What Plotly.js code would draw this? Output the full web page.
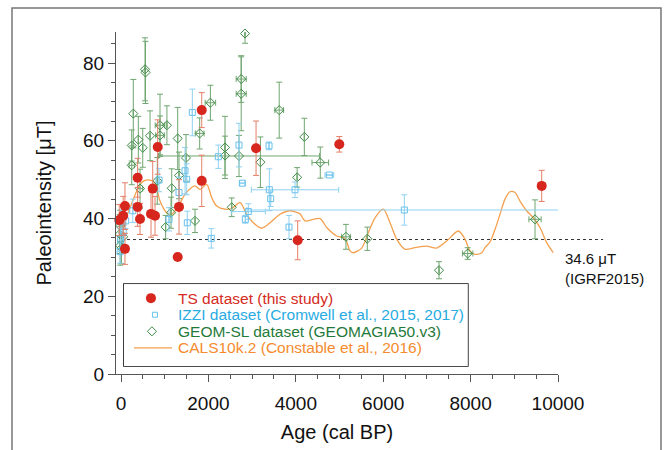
<!DOCTYPE html>
<html>
<head>
<meta charset="utf-8">
<script src="https://cdn.plot.ly/plotly-3.0.1.min.js"></script>
<style>html,body{margin:0;padding:0;background:#fff;}#chart{width:669px;height:450px;}</style>
</head>
<body>
<div id="chart"></div>
<script>
// ---- TS dataset (this study)
const ts_age = [-40, 90, 50, 90, 380, 380, 435, 725, 686, 778, 1327, 1297, 1847, 840, 1847, 3090, 4043, 4995, 9627];
const ts_pi  = [39.6, 32.2, 40.7, 43.2, 50.5, 43.0, 39.9, 47.7, 41.2, 40.7, 43.0, 30.1, 49.7, 58.4, 67.9, 58.1, 34.4, 59.1, 48.4];
const ts_err = [4, 4, 5, 6, 5, 5, 4, 7, 6, 5, 7, 0, 6.6, 7, 4.5, 7, 5, 2, 4];

// ---- IZZI dataset
const izzi_age  = [0, 107, 268, -10, -20, 50, 870, 1098, 1327, 1465, 1503, 1517, 1632, 2065, 2227, 2700, 2776, 2845, 2913, 3387, 3394, 3982, 3425, 3844, 4767, 6483];
const izzi_pi   = [39.2, 39.4, 42.0, 34.5, 31.5, 36.5, 49.9, 39.8, 46.7, 52.3, 50.1, 38.9, 67.3, 34.9, 55.9, 58.9, 49.1, 39.8, 41.8, 58.7, 47.4, 47.4, 45.1, 37.8, 51.2, 42.2];
const izzi_err  = [3, 2, 3, 3, 3, 2, 3, 3, 4, 6, 4, 3, 6, 2.5, 3, 5.6, 0, 1, 2, 1, 5.4, 2, 2, 3, 0, 3.9];
const izzi_xerr = [0, 0, 0, 0, 0, 0, 0, 0, 0, 0, 0, 0, 0, 0, 0, 0, 60, 0, 390, 0, 0, 1000, 0, 0, 100, 3600];

// ---- GEOM-SL dataset
const geom_age  = [-20, -30, 50, -20, 10, 245, 281, 245, 396, 497, 435, 549, 560, 664, 830, 892, 1050, 892, 1021, 1144, 1160, 1297, 1327, 1487, 1693, 1800, 2045, 2380, 2380, 2533, 2700, 2750, 2750, 2838, 3190, 3620, 4030, 4195, 4560, 5148, 5636, 7277, 7933, 9474];
const geom_pi   = [38.1, 36.0, 35.3, 33.0, 32.4, 53.7, 67.0, 58.8, 60.3, 58.2, 47.7, 78.4, 77.6, 61.3, 49.7, 64.0, 64.0, 61.4, 37.8, 41.5, 47.8, 60.6, 51.1, 55.6, 39.4, 61.9, 69.8, 58.3, 56.2, 42.9, 56.1, 75.9, 72.1, 87.6, 54.5, 67.9, 50.6, 61.0, 54.4, 35.3, 34.8, 26.7, 31.0, 39.8];
const geom_err  = [4, 5, 3, 5, 4, 5, 8.8, 4, 6, 5, 5, 8.1, 8, 6.4, 6, 8, 5, 5, 3, 4, 5, 8, 6, 6, 3, 4, 4.5, 8, 5, 2.4, 5.3, 6, 9.5, 2.5, 6.5, 7.2, 2.5, 4.8, 4, 3.2, 3, 2.2, 1.5, 5];
const geom_xerr = [0, 0, 0, 0, 0, 60, 0, 0, 0, 0, 60, 0, 0, 0, 0, 110, 0, 100, 0, 0, 0, 0, 0, 0, 0, 100, 120, 0, 0, 0, 1840, 115, 115, 0, 0, 100, 0, 0, 190, 100, 0, 0, 120, 140];

// ---- CALS10k.2 model curve
const cals_age = [-40, -23, 90, 206, 435, 550, 664, 778, 892, 1045, 1160, 1311, 1465, 1617, 1693, 1808, 1960, 2075, 2189, 2380, 2533, 2723, 2876, 3028, 3220, 3410, 3638, 3867, 4096, 4211, 4554, 4707, 4936, 5126, 5240, 5316, 5507, 5660, 5812, 6003, 6156, 6308, 6499, 6728, 6995, 7224, 7452, 7719, 7872, 7986, 8101, 8254, 8330, 8444, 8558, 8673, 8787, 8902, 9016, 9130, 9283, 9435, 9588, 9741, 9893];
const cals_pi  = [35.8, 36.8, 39.5, 42.8, 48.8, 49.8, 49.9, 49.2, 44.5, 41.5, 41.1, 43.2, 46.3, 48.0, 48.4, 47.5, 48.8, 45.4, 43.2, 42.4, 42.6, 44.1, 41.1, 38.9, 37.5, 38.9, 41.1, 42.0, 41.2, 39.4, 40.0, 37.7, 35.5, 34.9, 31.7, 31.2, 32.4, 36.4, 40.2, 42.4, 38.9, 34.7, 32.1, 32.5, 32.9, 32.4, 34.2, 36.8, 34.7, 31.7, 30.8, 31.2, 32.5, 34.0, 37.2, 41.1, 45.0, 46.9, 46.7, 44.5, 42.0, 40.2, 37.7, 33.8, 31.2];

// ---- reference value and labels
const igrf_value = 34.6;
const igrf_label = "34.6 \u03bcT<br>(IGRF2015)";
const x_ticks = [0, 2000, 4000, 6000, 8000, 10000];
const y_ticks = [0, 20, 40, 60, 80];
const legend_labels = [
  "TS dataset (this study)",
  "IZZI dataset (Cromwell et al., 2015, 2017)",
  "GEOM-SL dataset (GEOMAGIA50.v3)",
  "CALS10k.2 (Constable et al., 2016)"
];

const FONT = "Arial, 'Liberation Sans', sans-serif";
const xr = [-115, 10000];

// styles
const C_TS = '#d7261e', C_IZZI = '#68c1ec', C_GEOM = '#3d8a45', C_CALS = '#f5a04f';
const legend_text_colors = ['#d42b23', '#29abe2', '#1f7a3a', '#f58b2e'];
const mk_ts = {symbol: 'circle', size: 10, color: C_TS};
const mk_izzi = {symbol: 'square-open', size: 5, color: C_IZZI, line: {width: 1}};
const mk_geom = {symbol: 'diamond-open', size: 7, color: C_GEOM, line: {width: 1}};

const traces = [
  {
    x: cals_age, y: cals_pi, type: 'scatter', mode: 'lines', name: legend_labels[3],
    line: {color: C_CALS, width: 1.3, shape: 'spline', smoothing: 0.8},
    showlegend: false, hoverinfo: 'skip'
  },
  {
    x: geom_age, y: geom_pi, type: 'scatter', mode: 'markers', name: legend_labels[2],
    marker: mk_geom,
    error_y: {type: 'data', array: geom_err, visible: true, color: '#6fa66f', thickness: 1, width: 3},
    error_x: {type: 'data', array: geom_xerr, visible: true, color: '#6fa66f', thickness: 1, width: 3},
    showlegend: false, cliponaxis: false
  },
  {
    x: izzi_age, y: izzi_pi, type: 'scatter', mode: 'markers', name: legend_labels[1],
    marker: Object.assign({}, mk_izzi, {size: 6}),
    error_y: {type: 'data', array: izzi_err, visible: true, color: '#8fd1f2', thickness: 1, width: 3},
    error_x: {type: 'data', array: izzi_xerr, visible: true, color: '#8fd1f2', thickness: 1, width: 3},
    showlegend: false, cliponaxis: false
  },
  {
    x: ts_age, y: ts_pi, type: 'scatter', mode: 'markers', name: legend_labels[0],
    marker: mk_ts,
    error_y: {type: 'data', array: ts_err, visible: true, color: '#e57f68', thickness: 1, width: 3},
    showlegend: false, cliponaxis: false
  }
];

// ---- legend drawn on a hidden helper axis (x2/y2); one row per legend label
const nL = legend_labels.length;
const rowY = i => nL - i;          // 4,3,2,1
const keyX = 27, lineX0 = 10, lineX1 = 48, textX = 52;
traces.push(
  {x: [keyX], y: [rowY(0)], xaxis: 'x2', yaxis: 'y2', type: 'scatter', mode: 'markers', marker: mk_ts, showlegend: false, hoverinfo: 'skip'},
  {x: [keyX + 4], y: [rowY(1)], xaxis: 'x2', yaxis: 'y2', type: 'scatter', mode: 'markers', marker: mk_izzi, showlegend: false, hoverinfo: 'skip'},
  {x: [keyX + 1], y: [rowY(2)], xaxis: 'x2', yaxis: 'y2', type: 'scatter', mode: 'markers', marker: mk_geom, showlegend: false, hoverinfo: 'skip'},
  {x: [lineX0, lineX1], y: [rowY(3), rowY(3)], xaxis: 'x2', yaxis: 'y2', type: 'scatter', mode: 'lines', line: {color: C_CALS, width: 1.3}, showlegend: false, hoverinfo: 'skip'}
);

const paperX = v => (v - xr[0]) / (xr[1] - xr[0]);

const legendAnn = legend_labels.map((t, i) => ({
  xref: 'x2', yref: 'y2', x: textX, y: rowY(i), xanchor: 'left', yanchor: 'middle',
  text: t, showarrow: false, font: {family: FONT, size: 15.5, color: legend_text_colors[i]}
}));

const layout = {
  width: 669, height: 450,
  margin: {l: 116, r: 111, t: 32, b: 76},
  paper_bgcolor: '#ffffff', plot_bgcolor: '#ffffff',
  font: {family: FONT, color: '#111', size: 19},
  showlegend: false,
  xaxis: {
    range: xr, showgrid: false, zeroline: false,
    showline: true, linecolor: '#555', linewidth: 1,
    ticks: 'outside', ticklen: 7, tickcolor: '#555', tickwidth: 1,
    tickmode: 'array', tickvals: x_ticks, ticktext: x_ticks.map(String),
    minor: {dtick: 500, tick0: 0, ticklen: 4, tickcolor: '#555', ticks: 'outside'},
    tickfont: {family: FONT, size: 19, color: '#111'}, ticklabelstandoff: 5,
    title: {text: 'Age (cal BP)', font: {family: FONT, size: 20, color: '#111'}, standoff: 12}
  },
  yaxis: {
    range: [0, 88], showgrid: false, zeroline: false,
    showline: true, linecolor: '#555', linewidth: 1,
    ticks: 'outside', ticklen: 7, tickcolor: '#555', tickwidth: 1,
    tickmode: 'array', tickvals: y_ticks, ticktext: y_ticks.map(String),
    minor: {dtick: 5, tick0: 0, ticklen: 4, tickcolor: '#555', ticks: 'outside'},
    tickfont: {family: FONT, size: 19, color: '#111'},
    title: {text: 'Paleointensity [\u03bcT]', font: {family: FONT, size: 20, color: '#111'}, standoff: 26}
  },
  xaxis2: {domain: [0.018, 0.796], anchor: 'y2', range: [0, 344], visible: false, fixedrange: true},
  yaxis2: {domain: [0.0234, 0.263], anchor: 'x2', range: [-0.09, 4.85], visible: false, fixedrange: true},
  shapes: [
    {type: 'line', xref: 'paper', yref: 'y', x0: paperX(0), x1: 1.102, y0: igrf_value, y1: igrf_value,
     line: {color: '#333', width: 1, dash: 'dot'}, layer: 'below'},
    {type: 'rect', xref: 'paper', yref: 'paper', x0: -0.2353, x1: 1.2330, y0: -0.26, y1: 1.0702,
     line: {color: '#777', width: 1.5}, fillcolor: 'rgba(0,0,0,0)', layer: 'below'},
    {type: 'rect', xref: 'x2 domain', yref: 'y2 domain', x0: 0, x1: 1, y0: 0, y1: 1,
     line: {color: '#111', width: 1.6}, fillcolor: '#ffffff', layer: 'below'}
  ],
  annotations: [
    {xref: 'paper', yref: 'y', x: 1.011, y: igrf_value, xanchor: 'left', yanchor: 'top', yshift: -8,
     text: igrf_label, showarrow: false, align: 'left',
     font: {family: FONT, size: 15, color: '#111'}}
  ].concat(legendAnn)
};

Plotly.newPlot('chart', traces, layout, {displayModeBar: false, staticPlot: true});
</script>
</body>
</html>
